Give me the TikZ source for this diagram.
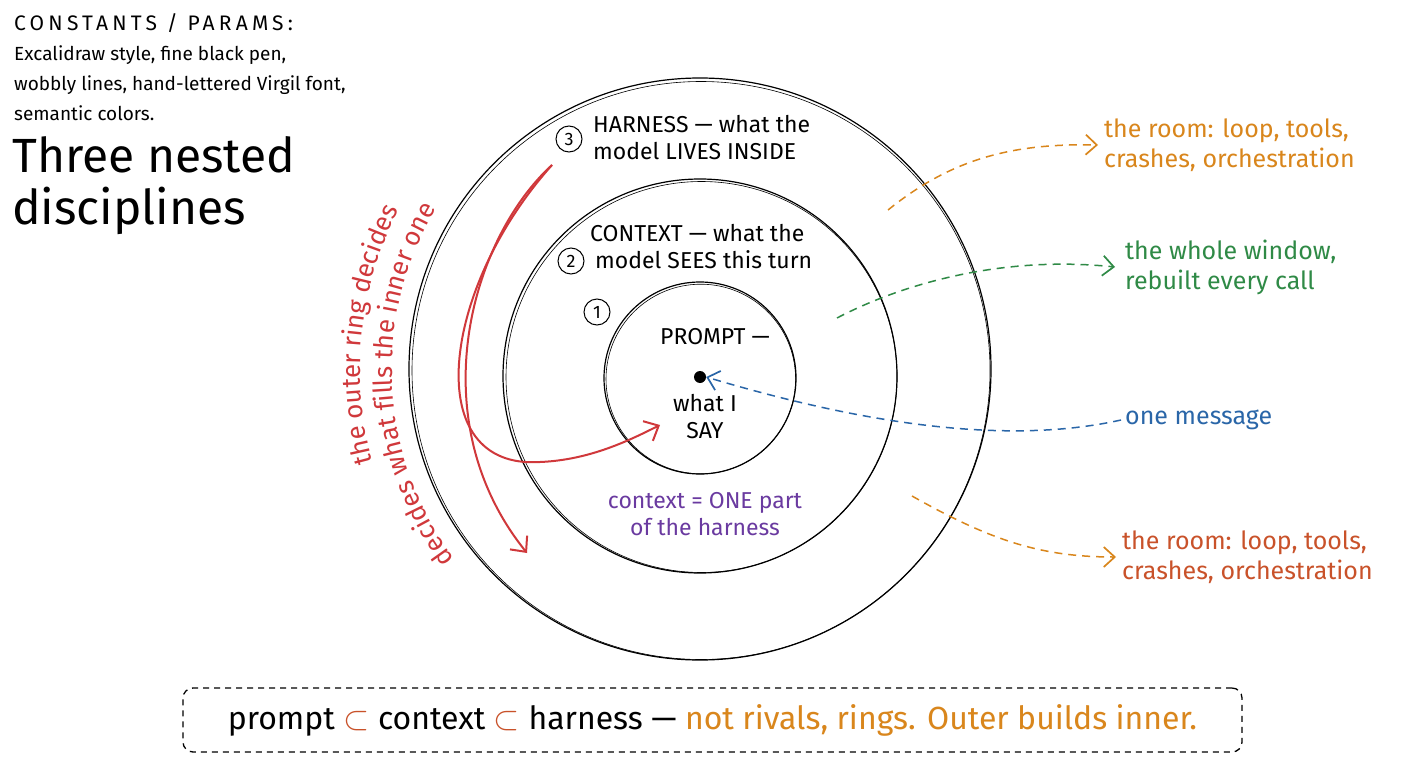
\documentclass[tikz,border=0pt]{standalone}
\usepackage{fontspec}
\setmainfont{Fira Sans}
\usetikzlibrary{arrows.meta,decorations.text}
\definecolor{inkorange}{HTML}{D9861C}
\definecolor{inkrust}{HTML}{C9522A}
\definecolor{inkgreen}{HTML}{2F8A46}
\definecolor{inkblue}{HTML}{2A66A8}
\definecolor{inkpurple}{HTML}{6A3AA0}
\definecolor{inkred}{HTML}{D0383B}
\newcommand{\redfont}{\fontsize{26}{26}\selectfont}
\newcommand{\subsetmark}{{\color{inkrust}\scalebox{1.35}{$\subset$}}}
\tikzset{
  lbl/.style={font=\fontsize{23}{27}\selectfont, align=left, inner sep=0pt},
  sidelbl/.style={font=\fontsize{25}{30}\selectfont, align=left, inner sep=0pt, anchor=west},
  ring/.style={circle, draw=black, line width=1.2pt, inner sep=0pt},
  ringshadow/.style={draw=black, line width=0.6pt},
  num/.style={circle, draw=black, line width=1pt, minimum size=26pt, inner sep=0pt, font=\fontsize{18}{18}\selectfont},
  dasharrow/.style={dash pattern=on 8pt off 6pt, line width=1.5pt, -{Straight Barb[length=11pt,width=20pt,line width=1.7pt]}},
  redarrow/.style={draw=inkred, line width=2pt, -{Straight Barb[length=12pt,width=22pt,line width=2pt]}},
  redtext/.style={decorate, decoration={text along path, text color=inkred, text align=center, text format delimiters={|}{|}}},
}
\begin{document}
\begin{tikzpicture}[x=1pt,y=-1pt]
\useasboundingbox[fill=white] (0,0) rectangle (1408,768);

% rings
\node[ring, minimum size=582pt] (outer) at (700,369) {};
\draw[ringshadow] (701,370.5) circle[radius=289];
\node[ring, minimum size=394pt] (middle) at (700,376) {};
\draw[ringshadow] (701.5,377) circle[radius=195.5];
\node[ring, minimum size=192pt] (inner) at (700,378) {};
\draw[ringshadow] (700.8,379) circle[radius=94.8];
\node[circle, fill=black, minimum size=12pt, inner sep=0pt] (dot) at (700,377) {};

% top-left
\node[lbl, anchor=west, font=\fontsize{19}{30}\selectfont] (consts) at (14,67)
  {{\fontsize{21}{30}\selectfont\addfontfeature{LetterSpace=20}CONSTANTS / PARAMS:}\\Excalidraw style, fine black pen,\\wobbly lines, hand-lettered Virgil font,\\semantic colors.};
\node[lbl, anchor=west, font=\fontsize{48}{52}\selectfont] (title) at (12,186) {Three nested\\disciplines};

% ring labels
\node[num] (n3) at (569,139) {3};
\node[lbl, anchor=west] (harness) at (593,138) {HARNESS — what the\\model LIVES INSIDE};
\node[num] (n2) at (571,261) {2};
\node[lbl, anchor=west] (context) at (590,247) {CONTEXT — what the\\\hspace*{5pt}model SEES this turn};
\node[num] (n1) at (597,312) {1};
\node[lbl] (prompt) at (715,337) {PROMPT —};
\node[lbl, align=center] (say) at (705,417) {what I\\SAY};
\node[lbl, align=center, text=inkpurple] (part) at (705,514) {context = ONE part\\of the harness};

% right labels
\node[sidelbl, text=inkorange] (room1) at (1104,145) {the room: loop, tools,\\crashes, orchestration};
\node[sidelbl, text=inkgreen] (window) at (1125,267) {the whole window,\\rebuilt every call};
\node[sidelbl, text=inkblue] (msg) at (1125,420) {one message};
\node[sidelbl, text=inkrust] (room2) at (1122,557) {the room: loop, tools,\\crashes, orchestration};

% dashed connectors
\coordinate (s1) at (888,210);
\coordinate (s2) at (837,318);
\coordinate (s4) at (912,496);
\draw[dasharrow, draw=inkorange] (s1) .. controls (950,160) and (1010,143) .. ([xshift=-6pt]room1.west);
\draw[dasharrow, draw=inkgreen] (s2) .. controls (900,285) and (1000,255) .. ([xshift=-10pt]window.west);
\draw[dasharrow, draw=inkblue] ([xshift=-4pt]msg.west) .. controls (1000,447) and (850,420) .. (dot.east);
\draw[dasharrow, draw=inkorange] (s4) .. controls (990,540) and (1040,557) .. ([xshift=-6pt]room2.west);

% red arrows
\coordinate (r0) at (552,165);
\coordinate (rm) at (540,462);
\draw[redarrow] (r0) .. controls (470,240) and (420,420) .. (527,553);
\draw[redarrow] (r0) .. controls (440,290) and (420,470) .. (rm) .. controls (590,460) and (630,440) .. (660,425);

% red curved text
\path[redtext, decoration={text={|\redfont|the outer ring decides}}]
  (708,370) ++(158:348) arc[start angle=158, end angle=214, radius=348];
\path[redtext, decoration={text={|\redfont|decides what fills the inner one}}]
  (708,370) ++(134:316) arc[start angle=134, end angle=220, radius=316];

% summary box
\node[draw=black, dash pattern=on 6pt off 5pt, line width=1.3pt, rounded corners=10pt,
      minimum width=1059pt, minimum height=64pt, font=\fontsize{32}{32}\selectfont] (summary) at (712.5,720)
  {prompt \subsetmark{} context \subsetmark{} harness — {\color{inkorange}not rivals, rings. Outer builds inner.}};
\end{tikzpicture}
\end{document}
